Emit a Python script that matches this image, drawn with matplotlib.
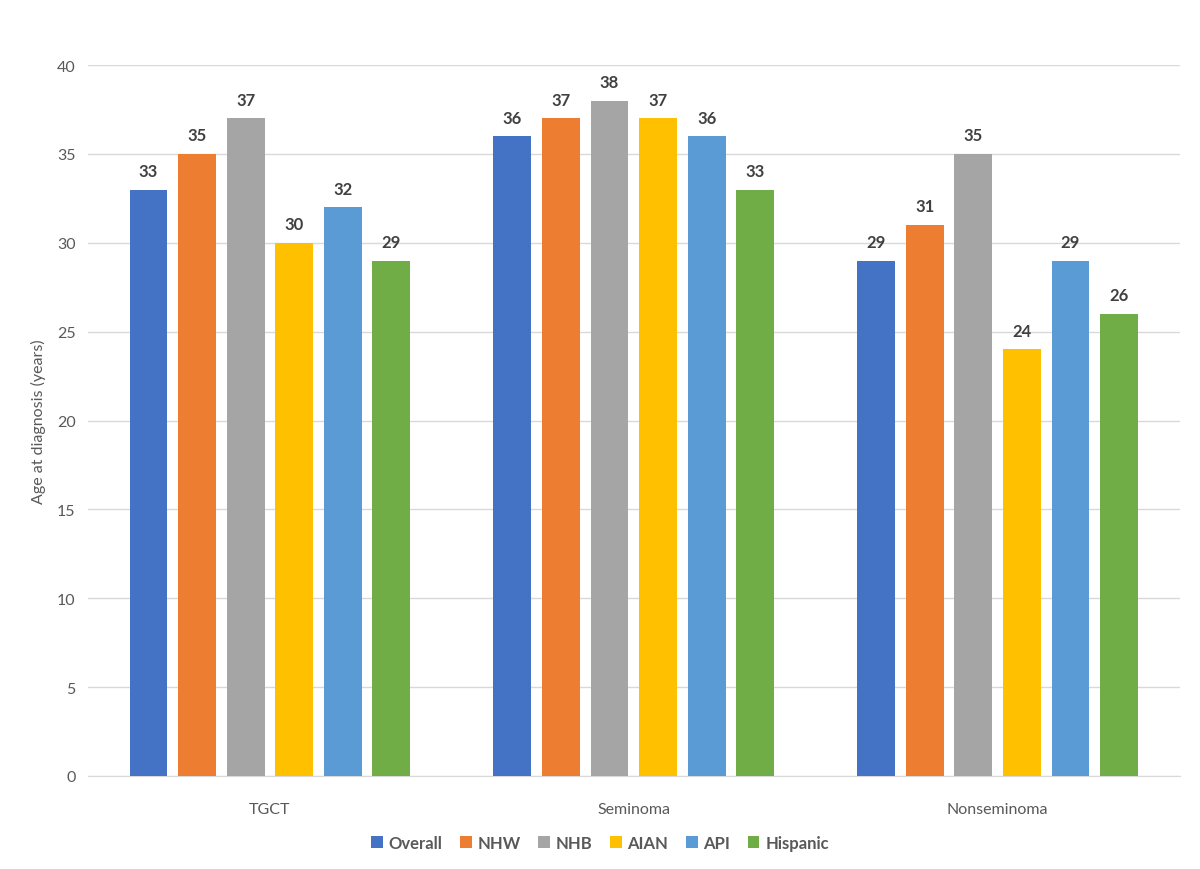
import matplotlib
matplotlib.use("Agg")
import matplotlib.pyplot as plt
import numpy as np

categories = ["TGCT", "Seminoma", "Nonseminoma"]
series = ["Overall", "NHW", "NHB", "AIAN", "API", "Hispanic"]
overall = [33, 36, 29]
nhw = [35, 37, 31]
nhb = [37, 38, 35]
aian = [30, 37, 24]
api = [32, 36, 29]
hispanic = [29, 33, 26]
values = [overall, nhw, nhb, aian, api, hispanic]
colors = ["#4472C4", "#ED7D31", "#A5A5A5", "#FFC000", "#5B9BD5", "#70AD47"]

plt.rcParams['font.family'] = ['Lato', 'DejaVu Sans']

fig = plt.figure(figsize=(12, 8.7), dpi=100)
ax = fig.add_axes([0.0733, 0.1069, 0.9097, 0.8171])

x = np.arange(len(categories))
step = 0.1335
width = 0.104
for i, (name, vals, c) in enumerate(zip(series, values, colors)):
    pos = x + (i - 2.5) * step
    bars = ax.bar(pos, vals, width=width, color=c, label=name, zorder=3)
    for b, v in zip(bars, vals):
        ax.text(b.get_x() + b.get_width() / 2, v + 0.6, f"{v}", ha="center", va="bottom",
                fontsize=12, fontweight="bold", color="#404040")

ax.set_xlim(-0.5, 2.5)
ax.set_ylim(0, 40)
ax.set_yticks(range(0, 41, 5))
ax.yaxis.grid(True, color="#D9D9D9", linewidth=1, zorder=0)
ax.set_axisbelow(True)
for s in ["top", "right", "left"]:
    ax.spines[s].set_visible(False)
ax.spines["bottom"].set_color("#D9D9D9")
ax.set_xticks(x)
ax.set_xticklabels(categories)
ax.tick_params(axis="both", length=0, labelsize=11.5, colors="#595959")
ax.tick_params(axis="x", pad=19)
ax.tick_params(axis="y", pad=9)
ax.set_ylabel("Age at diagnosis (years)", fontsize=11.5, color="#595959", labelpad=8)

leg = fig.legend(loc="lower center", bbox_to_anchor=(0.5, 0.004), ncol=6, frameon=False,
                 handlelength=0.7, handleheight=0.7, handletextpad=0.35, columnspacing=1.05,
                 prop={"size": 12, "weight": "bold"})
for t in leg.get_texts():
    t.set_color("#595959")

fig.savefig("out.png", dpi=100, facecolor="white")
